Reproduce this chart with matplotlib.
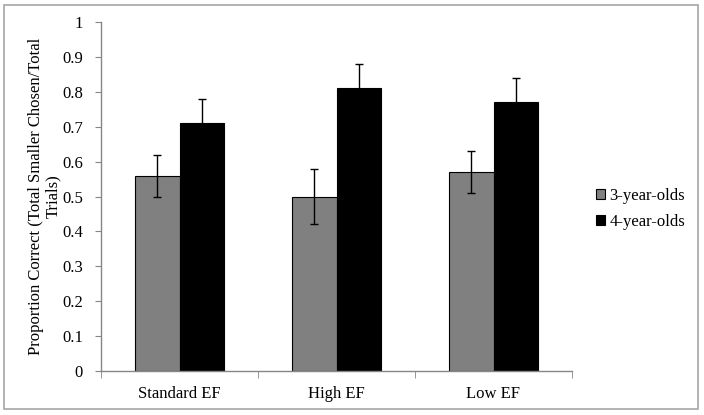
import matplotlib
matplotlib.use("Agg")

import matplotlib.pyplot as plt
import numpy as np
from matplotlib.patches import Rectangle

categories = ["Standard EF", "High EF", "Low EF"]
series_names = ["3-year-olds", "4-year-olds"]
means_3yo = [0.56, 0.50, 0.57]
means_4yo = [0.71, 0.81, 0.77]
err_3yo = [0.06, 0.08, 0.06]
err_4yo = [0.07, 0.07, 0.07]
yticks = [0, 0.1, 0.2, 0.3, 0.4, 0.5, 0.6, 0.7, 0.8, 0.9, 1]
ytick_labels = ["0", "0.1", "0.2", "0.3", "0.4", "0.5", "0.6", "0.7", "0.8", "0.9", "1"]

plt.rcParams["font.family"] = ["Liberation Serif", "DejaVu Serif"]
plt.rcParams["font.size"] = 12

W, H = 704, 415
fig = plt.figure(figsize=(W / 100, H / 100), dpi=100)

# grey frame around the whole chart area
fig.patches.append(Rectangle((4 / W, 1 - 409 / H), 694 / W, 404 / H,
                             transform=fig.transFigure, fill=False,
                             edgecolor="#a6a6a6", linewidth=1.2))

ax = fig.add_axes([101 / W, 1 - 371 / H, 471 / W, 349 / H])

x = np.arange(len(categories))
w = 0.284
axis_grey = "#868686"

ax.bar(x - w / 2, means_3yo, w, color="#808080", edgecolor="black",
       linewidth=0.8, label=series_names[0], zorder=2)
ax.bar(x + w / 2, means_4yo, w, color="black", edgecolor="black",
       linewidth=0.8, label=series_names[1], zorder=2)
ax.errorbar(x - w / 2, means_3yo, yerr=err_3yo, fmt="none", ecolor="black",
            elinewidth=1, capsize=2.6, capthick=1, zorder=3)
ax.errorbar(x + w / 2, means_4yo, yerr=err_4yo, fmt="none", ecolor="black",
            elinewidth=1, capsize=2.6, capthick=1, zorder=3)

ax.set_xlim(-0.5, len(categories) - 0.5)
ax.set_ylim(0, 1)
ax.set_yticks(yticks)
ax.set_yticklabels(ytick_labels)
ax.set_xticks(x)
ax.set_xticklabels(categories)
ax.set_xticks(np.arange(len(categories) + 1) - 0.5, minor=True)
ax.tick_params(axis="x", which="major", length=0, pad=11)
ax.tick_params(axis="x", which="minor", length=5, color=axis_grey, direction="out")
ax.tick_params(axis="y", length=4, color=axis_grey, direction="out", pad=9)

for side in ["top", "right"]:
    ax.spines[side].set_visible(False)
for side in ["left", "bottom"]:
    ax.spines[side].set_color(axis_grey)
    ax.spines[side].set_linewidth(1)

ax.set_ylabel("Proportion Correct (Total Smaller Chosen/Total\nTrials)",
              linespacing=1.05)
ax.yaxis.set_label_coords(-0.085, 0.5)

fig.legend(loc="center left", bbox_to_anchor=(596 / W, 1 - 208.5 / H),
           frameon=False, handlelength=0.55, handleheight=0.55,
           handletextpad=0.25, labelspacing=0.6, borderaxespad=0,
           borderpad=0)

fig.savefig("out.png", dpi=100)
